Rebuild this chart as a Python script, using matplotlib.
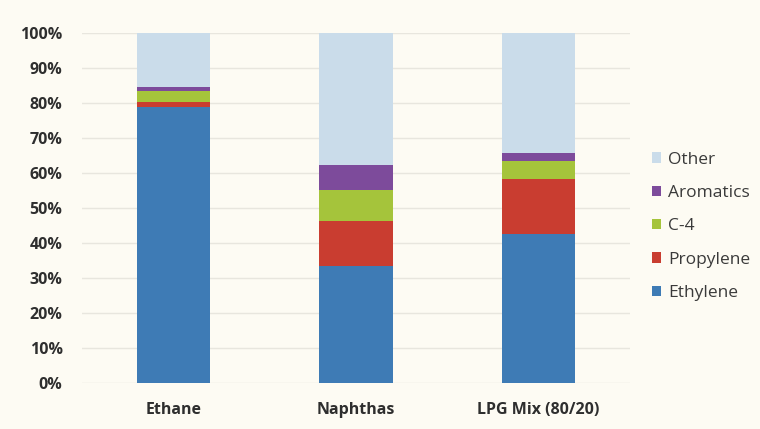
import matplotlib.pyplot as plt
import numpy as np
from matplotlib.patches import Patch

plt.rcParams['font.family'] = ['Open Sans', 'DejaVu Sans']

feeds = ["Ethane", "Naphthas", "LPG Mix (80/20)"]
ethylene = [79.0, 33.4, 42.5]
propylene = [1.2, 12.9, 15.7]
c4 = [3.3, 8.8, 5.2]
aromatics = [1.2, 7.2, 2.2]
other = [15.3, 37.7, 34.4]

series = [
    ("Ethylene", ethylene, "#3e7bb5"),
    ("Propylene", propylene, "#c93d30"),
    ("C-4", c4, "#a5c43b"),
    ("Aromatics", aromatics, "#7d4b9b"),
    ("Other", other, "#cadcea"),
]

bg = "#fdfbf3"
fig = plt.figure(figsize=(7.6, 4.29), dpi=100, facecolor=bg)
ax = fig.add_axes([82 / 760, 1 - 383 / 429, 548 / 760, 350 / 429], facecolor=bg)

x = np.arange(len(feeds))
bottom = np.zeros(len(feeds))
handles = []
for name, vals, col in series:
    ax.bar(x, vals, width=0.4, bottom=bottom, color=col, zorder=3)
    bottom += np.array(vals)
    handles.append(Patch(facecolor=col, label=name))

ax.set_xlim(-0.5, 2.5)
ax.set_ylim(0, 100)
ax.set_yticks(np.arange(0, 101, 10))
ax.set_yticklabels([f"{v}%" for v in range(0, 101, 10)])
ax.set_xticks(x)
ax.set_xticklabels(feeds)
ax.grid(axis="y", color="#e8e6de", linewidth=1, zorder=0)
for s in ax.spines.values():
    s.set_visible(False)
ax.tick_params(length=0, labelsize=11.5, colors="#2e2e2e")
ax.tick_params(axis="y", pad=14)
ax.tick_params(axis="x", pad=14)
for lab in ax.get_xticklabels() + ax.get_yticklabels():
    lab.set_fontweight("bold")

# legend drawn top-down: Other first
leg = fig.legend(handles=handles[::-1], loc="upper left",
                 bbox_to_anchor=(636 / 760, 1 - 136 / 429), frameon=False,
                 handlelength=0.55, handleheight=0.55, handletextpad=0.4,
                 labelspacing=1.0, fontsize=12.5)
for t in leg.get_texts():
    t.set_color("#3a3a3a")

fig.savefig("out.png", dpi=100, facecolor=bg)
